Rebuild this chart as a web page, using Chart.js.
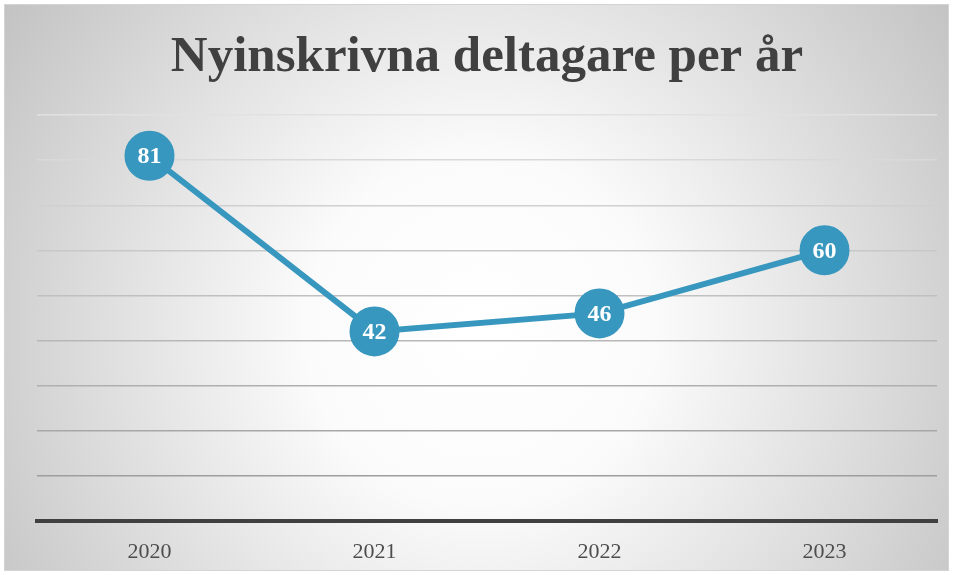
<!DOCTYPE html>
<html>
<head>
<meta charset="utf-8">
<script src="https://cdn.jsdelivr.net/npm/chart.js@4/dist/chart.umd.min.js"></script>
<style>
    html, body { margin: 0; padding: 0; background: #fff; }
    #wrap { width: 953px; height: 575px; }
</style>
</head>
<body>
<div id="wrap"><canvas id="chartDeltagare"></canvas></div>
<script>
const years = ['2020', '2021', '2022', '2023'];
const deltagare = [81, 42, 46, 60];
const yTicks = [0, 10, 20, 30, 40, 50, 60, 70, 80, 90];

const blue = '#3797be';
const serif = "'Liberation Serif', 'DejaVu Serif', serif";

// Bakgrund: radiell gradient + ram
const bakgrund = {
    id: 'bakgrund',
    beforeDraw(chart) {
        const c = chart.ctx;
        const w = chart.width, h = chart.height;
        c.save();
        c.fillStyle = '#ffffff';
        c.fillRect(0, 0, w, h);
        const g = c.createRadialGradient(480, 330, 0, 480, 330, 580);
        g.addColorStop(0, '#ffffff');
        g.addColorStop(0.3, '#fbfbfb');
        g.addColorStop(1, '#c2c2c2');
        c.fillStyle = g;
        c.fillRect(4, 4, w - 8, h - 8);
        c.strokeStyle = '#d4d4d4';
        c.lineWidth = 1;
        c.strokeRect(4.5, 4.5, w - 9, h - 9);
        c.restore();
    }
};

// Etiketter inne i punkterna
const etiketter = {
    id: 'etiketter',
    afterDatasetsDraw(chart) {
        const c = chart.ctx;
        const meta = chart.getDatasetMeta(0);
        c.save();
        c.fillStyle = '#ffffff';
        c.font = 'bold 24px ' + serif;
        c.textAlign = 'center';
        c.textBaseline = 'middle';
        meta.data.forEach((p, i) => {
            c.fillText(String(deltagare[i]), p.x, p.y + 1);
        });
        c.restore();
    }
};

function gridFarg(ctx) {
    const v = ctx.tick ? ctx.tick.value : 0;
    if (v === 0) return 'rgba(0,0,0,0)';
    // ljusare upptill, mörkare nedtill
    const t = v / 90;
    const k = Math.round(150 + t * 75);
    return `rgb(${k},${k},${k})`;
}

new Chart(document.getElementById('chartDeltagare'), {
    type: 'line',
    data: {
        labels: years,
        datasets: [{
            label: 'Deltagare',
            data: deltagare,
            borderColor: blue,
            borderWidth: 6,
            backgroundColor: blue,
            pointBackgroundColor: blue,
            pointBorderColor: blue,
            pointRadius: 22,
            pointHoverRadius: 22,
            tension: 0,
            fill: false
        }]
    },
    options: {
        responsive: true,
        maintainAspectRatio: false,
        animation: false,
        layout: { autoPadding: false, padding: { left: 37, right: 16, top: 0, bottom: 0 } },
        plugins: {
            legend: { display: false },
            tooltip: { enabled: false },
            title: {
                display: true,
                text: 'Nyinskrivna deltagare per år',
                color: '#404040',
                font: { family: serif, size: 51, weight: 'bold' },
                padding: { top: 27, bottom: 27 }
            }
        },
        scales: {
            x: {
                offset: true,
                grid: { display: false },
                border: { display: true, color: '#404040', width: 4 },
                ticks: {
                    color: '#4d4d4d',
                    font: { family: serif, size: 22 },
                    padding: 10
                }
            },
            y: {
                min: 0,
                max: 90,
                afterBuildTicks(scale) {
                    scale.ticks = yTicks.map(v => ({ value: v }));
                },
                ticks: { display: false },
                border: { display: false },
                grid: { color: gridFarg, lineWidth: 1.5, drawTicks: false }
            }
        }
    },
    plugins: [bakgrund, etiketter]
});
</script>
</body>
</html>
